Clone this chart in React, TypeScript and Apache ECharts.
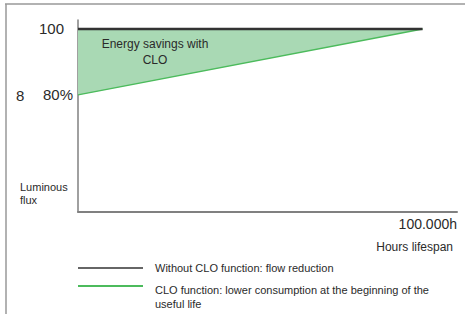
import React, { useEffect, useRef } from "react";
import * as echarts from "echarts";

const hours = [0, 100000];
const withoutClo = [100, 100];
const withClo = [80, 100];
const yTickValues = [80, 100];
const yTickLabels: Record<number, string> = { 80: "80%", 100: "{a|100}" };
const legendNames = [
  "Without CLO function: flow reduction",
  "CLO function: lower consumption at the beginning of the\nuseful life",
];

const FONT = "Liberation Sans, Arial, sans-serif";

export default function App() {
  const ref = useRef<HTMLDivElement>(null);
  useEffect(() => {
    const chart = echarts.init(ref.current!, null, { renderer: "svg" });
    const areaData = hours.map((h, i) => [h, withClo[i], withoutClo[i]]);
    chart.setOption({
      animation: false,
      backgroundColor: "#fff",
      grid: { left: 78, right: 8, top: 20, bottom: 102 },
      xAxis: {
        type: "value",
        min: 0,
        max: 110000,
        axisLine: { show: true, lineStyle: { color: "#808080", width: 2 } },
        axisTick: { show: false },
        axisLabel: { show: false },
        splitLine: { show: false },
      },
      yAxis: {
        type: "value",
        min: 44.5,
        max: 102.7,
        axisLine: { show: true, lineStyle: { color: "#808080", width: 1.5 } },
        axisTick: { show: false },
        splitLine: { show: false },
        axisLabel: {
          customValues: yTickValues,
          formatter: (v: number) => yTickLabels[v] ?? "",
          color: "#2a2a2a",
          fontSize: 15,
          fontFamily: FONT,
          margin: 5,
          rich: {
            a: { fontSize: 15, fontFamily: FONT, color: "#2a2a2a", padding: [0, 9, 0, 0] },
          },
        },
      },
      series: [
        {
          type: "custom",
          data: areaData,
          encode: { x: 0, y: [1, 2] },
          z: 1,
          renderItem: (params: any, api: any) => {
            if (params.dataIndex !== 0) return null;
            const pts: number[][] = [];
            for (let i = 0; i < areaData.length; i++) {
              pts.push(api.coord([areaData[i][0], areaData[i][2]]));
            }
            for (let i = areaData.length - 1; i >= 0; i--) {
              pts.push(api.coord([areaData[i][0], areaData[i][1]]));
            }
            return {
              type: "polygon",
              shape: { points: pts },
              style: { fill: "#a9d9b4", stroke: "none" },
            };
          },
        },
        {
          type: "line",
          data: hours.map((h, i) => [h, withClo[i]]),
          symbol: "none",
          lineStyle: { color: "#4cbb5c", width: 1.5 },
          z: 3,
        },
        {
          type: "line",
          data: hours.map((h, i) => [h, withoutClo[i]]),
          symbol: "none",
          lineStyle: { color: "#333", width: 2.5 },
          z: 4,
        },
      ],
      graphic: [
        { type: "line", z: 100, shape: { x1: 5, y1: 4, x2: 465, y2: 4 }, style: { stroke: "#999", lineWidth: 1.5 } },
        { type: "line", z: 100, shape: { x1: 6, y1: 4, x2: 6, y2: 314 }, style: { stroke: "#999", lineWidth: 1.5 } },
        { type: "text", z: 100, x: 16, y: 95, style: { text: "8", fontSize: 15, fontFamily: FONT, fill: "#2a2a2a", verticalAlign: "middle" } },
        { type: "text", z: 100, x: 155, y: 44, style: { text: "Energy savings with", fontSize: 12, fontFamily: FONT, fill: "#2a2a2a", align: "center", verticalAlign: "middle" } },
        { type: "text", z: 100, x: 155, y: 60, style: { text: "CLO", fontSize: 12, fontFamily: FONT, fill: "#2a2a2a", align: "center", verticalAlign: "middle" } },
        { type: "text", z: 100, x: 20, y: 193, style: { text: "Luminous\nflux", fontSize: 11, lineHeight: 13, fontFamily: FONT, fill: "#2a2a2a", verticalAlign: "middle" } },
        { type: "text", z: 100, x: 457, y: 224, style: { text: "100.000h", fontSize: 14, fontFamily: FONT, fill: "#2a2a2a", align: "right", verticalAlign: "middle" } },
        { type: "text", z: 100, x: 453, y: 247, style: { text: "Hours lifespan", fontSize: 12, fontFamily: FONT, fill: "#2a2a2a", align: "right", verticalAlign: "middle" } },
        { type: "line", z: 100, shape: { x1: 78, y1: 268, x2: 143, y2: 268 }, style: { stroke: "#666", lineWidth: 2 } },
        { type: "line", z: 100, shape: { x1: 78, y1: 286, x2: 143, y2: 286 }, style: { stroke: "#4cbb5c", lineWidth: 2 } },
        { type: "text", z: 100, x: 155, y: 268, style: { text: legendNames[0], fontSize: 11, fontFamily: FONT, fill: "#2a2a2a", verticalAlign: "middle" } },
        { type: "text", z: 100, x: 155, y: 283, style: { text: legendNames[1], fontSize: 11, lineHeight: 14, fontFamily: FONT, fill: "#2a2a2a", verticalAlign: "top" } },
      ],
    });
    return () => chart.dispose();
  }, []);
  return <div ref={ref} style={{ width: 465, height: 314, position: "absolute", left: 0, top: 0 }} />;
}
